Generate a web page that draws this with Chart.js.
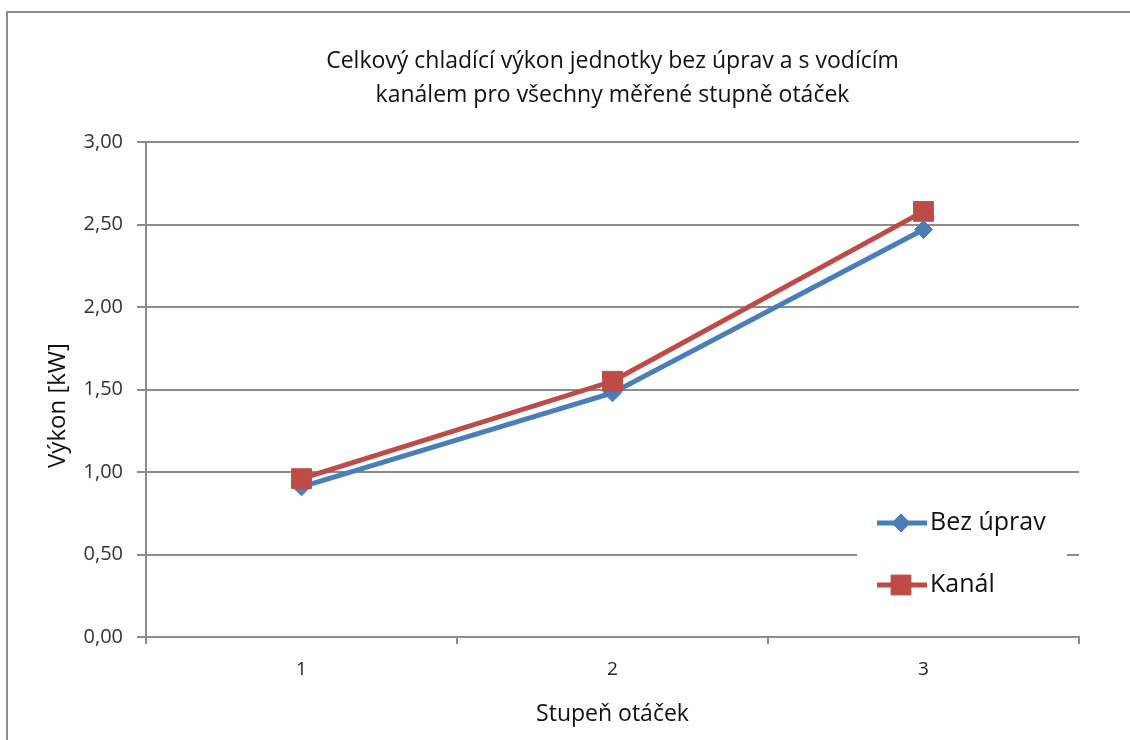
<!DOCTYPE html>
<html lang="cs">
<head>
<meta charset="utf-8">
<title>Celkový chladící výkon</title>
<script src="https://cdn.jsdelivr.net/npm/chart.js@4/dist/chart.umd.min.js"></script>
<style>
  html, body { margin: 0; padding: 0; background: #ffffff; overflow: hidden; }
  #wrap { position: relative; width: 1130px; height: 740px; }
  #frame {
    position: absolute; left: 6px; top: 11px; width: 1200px; height: 800px;
    border-left: 2px solid #8a8a8a; border-top: 2px solid #8a8a8a; box-sizing: border-box;
  }
  #chart { position: absolute; left: 0; top: 0; }
</style>
</head>
<body>
<div id="wrap">
  <div id="frame"></div>
  <canvas id="chart" width="1130" height="740"></canvas>
</div>
<script>
// Speed steps and measured total cooling output [kW]
const categories = ['1', '2', '3'];
const bezUprav = [0.91, 1.48, 2.47];
const kanal = [0.96, 1.55, 2.58];
const seriesNames = ['Bez úprav', 'Kanál'];
const titleLines = ['Celkový chladící výkon jednotky bez úprav a s vodícím',
                    'kanálem pro všechny měřené stupně otáček'];
const xAxisTitle = 'Stupeň otáček';
const yAxisTitle = 'Výkon [kW]';
const yTickValues = [0, 0.5, 1, 1.5, 2, 2.5, 3];

const FONT = '"Open Sans", Lato, sans-serif';
const GRID = '#8c8c8c';
const BLUE = '#4a7ebb';
const RED = '#be4b48';

function fmt(v) { return v.toFixed(2).replace('.', ','); }

// Rotated value-axis title, left of the tick labels
const yTitle = {
  id: 'yTitle',
  afterDraw(chart) {
    const ctx = chart.ctx;
    const area = chart.chartArea;
    ctx.save();
    ctx.translate(area.left - 88, (area.top + area.bottom) / 2 + 16);
    ctx.rotate(-Math.PI / 2);
    ctx.fillStyle = '#111111';
    ctx.font = '24px ' + FONT;
    ctx.textAlign = 'center';
    ctx.textBaseline = 'middle';
    ctx.fillText(yAxisTitle, 0, 0);
    ctx.restore();
  }
};

// Legend drawn inside the plot area, on a white box over the grid
const innerLegend = {
  id: 'innerLegend',
  afterDraw(chart) {
    const ctx = chart.ctx;
    const area = chart.chartArea;
    const x0 = area.right - 222;
    const y0 = area.bottom - 138;
    ctx.save();
    ctx.fillStyle = '#ffffff';
    ctx.fillRect(x0, y0, 210, 112);
    const rows = [y0 + 24, y0 + 86];
    chart.data.datasets.forEach((ds, i) => {
      const y = rows[i];
      ctx.strokeStyle = ds.borderColor;
      ctx.lineWidth = ds.borderWidth;
      ctx.beginPath();
      ctx.moveTo(x0 + 20, y);
      ctx.lineTo(x0 + 70, y);
      ctx.stroke();
      ctx.fillStyle = ds.pointBackgroundColor;
      ctx.strokeStyle = ds.pointBorderColor;
      ctx.lineWidth = 1;
      Chart.helpers.drawPoint(ctx, {
        pointStyle: ds.pointStyle, radius: ds.pointRadius, rotation: 0, borderWidth: 1
      }, x0 + 44, y);
      ctx.fillStyle = '#111111';
      ctx.font = '25px ' + FONT;
      ctx.textBaseline = 'middle';
      ctx.textAlign = 'left';
      ctx.fillText(ds.label, x0 + 73, y);
    });
    ctx.restore();
  }
};

new Chart(document.getElementById('chart'), {
  type: 'line',
  data: {
    labels: categories,
    datasets: [
      {
        label: seriesNames[0], data: bezUprav, order: 1,
        borderColor: BLUE, backgroundColor: BLUE, borderWidth: 5,
        pointStyle: 'rectRot', pointRadius: 9, pointHoverRadius: 9,
        pointBackgroundColor: BLUE, pointBorderColor: BLUE, pointBorderWidth: 1,
        tension: 0
      },
      {
        label: seriesNames[1], data: kanal, order: 0,
        borderColor: RED, backgroundColor: RED, borderWidth: 5,
        pointStyle: 'rect', pointRadius: 14, pointHoverRadius: 14,
        pointBackgroundColor: RED, pointBorderColor: RED, pointBorderWidth: 1,
        tension: 0
      }
    ]
  },
  options: {
    responsive: false,
    animation: false,
    devicePixelRatio: 1,
    layout: { padding: { left: 0, right: 51, top: 0, bottom: 0 } },
    plugins: {
      legend: { display: false },
      tooltip: { enabled: false },
      title: {
        display: true,
        fullSize: false,
        text: titleLines,
        color: '#111111',
        font: { family: FONT, size: 23, weight: 'normal', lineHeight: 1.48 },
        padding: { top: 44, bottom: 30 }
      }
    },
    scales: {
      x: {
        type: 'category',
        offset: true,
        grid: { offset: true, drawOnChartArea: false, drawTicks: true, tickLength: 7, color: GRID, lineWidth: 2 },
        border: { display: true, color: GRID, width: 2 },
        ticks: { color: '#222222', font: { family: FONT, size: 19 }, padding: 14 },
        title: {
          display: true, text: xAxisTitle, color: '#111111',
          font: { family: FONT, size: 23 }, padding: { top: 0, bottom: 12 }
        },
        afterFit(scale) { scale.height = 103; }
      },
      y: {
        min: 0, max: 3,
        afterBuildTicks(scale) { scale.ticks = yTickValues.map(v => ({ value: v })); },
        grid: { color: GRID, lineWidth: 2, tickLength: 9, drawTicks: true },
        border: { display: true, color: GRID, width: 2 },
        ticks: {
          color: '#333333', font: { family: FONT, size: 20 }, padding: 14,
          callback: (v) => fmt(v)
        },
        afterFit(scale) { scale.width = 146; }
      }
    }
  },
  plugins: [innerLegend, yTitle]
});
</script>
</body>
</html>
